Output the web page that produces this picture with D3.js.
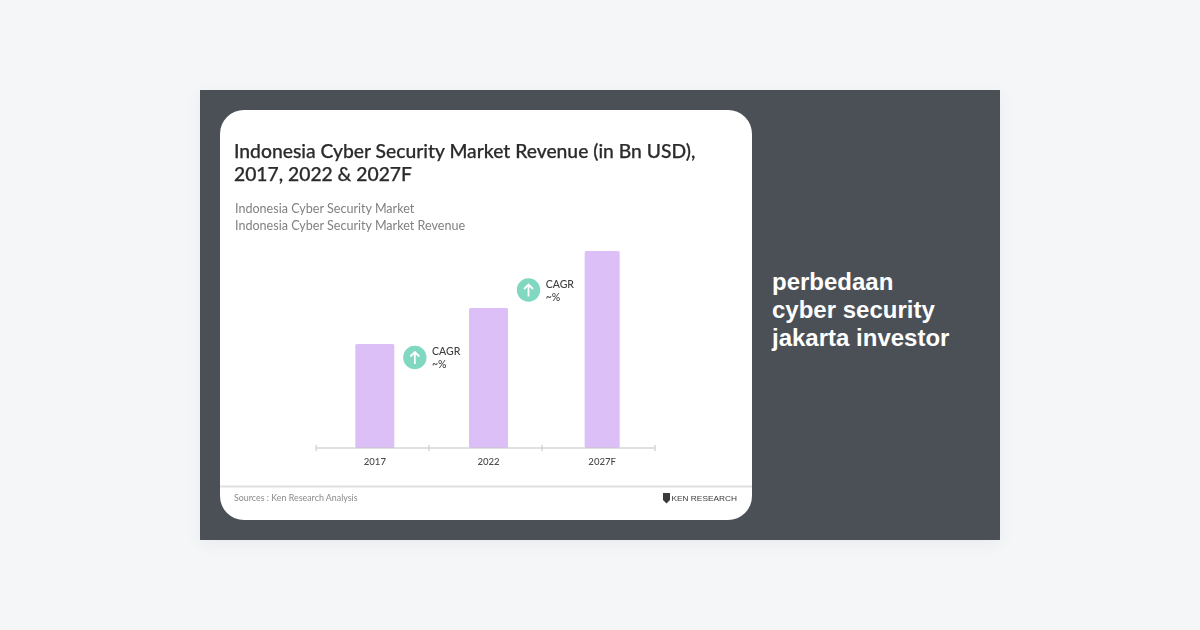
<!DOCTYPE html>
<html>
<head>
<meta charset="utf-8">
<script src="https://cdn.jsdelivr.net/npm/d3@7"></script>
<style>
  html, body { margin: 0; padding: 0; background: #f5f6f8; }
  #page { position: relative; width: 1200px; height: 630px; overflow: hidden; }
  #panel { position: absolute; left: 200px; top: 90px; width: 800px; height: 450px;
    background: #4b5057; box-shadow: 0 4px 16px rgba(0,0,0,0.05); }
  #caption { position: absolute; left: 772px; top: 267.5px; width: 220px;
    font: bold 24px/28.3px "Liberation Sans", Arial, sans-serif; color: #fff; }
  svg { position: absolute; left: 0; top: 0; }
</style>
</head>
<body>
<div id="page">
  <div id="panel"></div>
  <svg id="chart" width="1200" height="630"></svg>
  <div id="caption">perbedaan<br>cyber security<br>jakarta investor</div>
</div>
<script>
// Values, the source prints no numbers
const categories = ['2017', '2022', '2027F'];
const revenue = [1.04, 1.40, 1.97];
const titleLines = ['Indonesia Cyber Security Market Revenue (in Bn USD),', '2017, 2022 & 2027F'];
const subtitleLines = ['Indonesia Cyber Security Market', 'Indonesia Cyber Security Market Revenue'];
const cagrFrom = ['2017', '2022'];
const cagrLabels = ['CAGR', '~%'];

const font = 'Lato, sans-serif';
const barWidths = { '2017': 39, '2022': 39, '2027F': 35 };

const svg = d3.select('#chart');
const card = svg.append('g').style('filter', 'blur(0.45px)');

card.append('rect')
  .attr('x', 220).attr('y', 110)
  .attr('width', 532).attr('height', 410)
  .attr('rx', 24)
  .attr('fill', '#fff');

// Title
titleLines.forEach((line, i) => {
  card.append('text')
    .attr('x', 234)
    .attr('y', 157.5 + i * 23)
    .attr('fill', '#2b2b2d')
    .attr('font-size', '19.3px')
    .attr('font-weight', '500')
    .attr('font-family', font)
    .attr('stroke', '#2b2b2d')
    .attr('stroke-width', 0.25)
    .text(line);
});

subtitleLines.forEach((line, i) => {
  card.append('text')
    .attr('x', 235)
    .attr('y', 213 + i * 16.5)
    .attr('fill', '#808184')
    .attr('font-size', '12.57px')
    .attr('font-family', font)
    .text(line);
});

// Scales
const x = d3.scaleBand()
  .domain(categories)
  .range([318, 659])
  .padding(0);

const y = d3.scaleLinear()
  .domain([0, 2])
  .range([448, 248]);

const cx = c => x(c) + x.bandwidth() / 2;

// Bars
card.selectAll('rect.bar')
  .data(categories)
  .join('rect')
  .attr('class', 'bar')
  .attr('x', c => cx(c) - barWidths[c] / 2)
  .attr('y', (c, i) => y(revenue[i]))
  .attr('width', c => barWidths[c])
  .attr('height', (c, i) => y(0) - y(revenue[i]))
  .attr('rx', 1.5)
  .attr('fill', '#dcbff6');

// Axis line with separators between the categories
const axisEdges = d3.scaleLinear().domain([0, 3]).range([316, 655]);
card.append('line')
  .attr('x1', axisEdges(0)).attr('x2', axisEdges(3))
  .attr('y1', y(0)).attr('y2', y(0))
  .attr('stroke', '#c4c4c8')
  .attr('stroke-width', 1.2);

card.selectAll('line.sep')
  .data(d3.range(4))
  .join('line')
  .attr('class', 'sep')
  .attr('x1', d => axisEdges(d)).attr('x2', d => axisEdges(d))
  .attr('y1', y(0) - 3).attr('y2', y(0) + 3)
  .attr('stroke', '#c4c4c8')
  .attr('stroke-width', 1);

// Category labels
const axis = d3.axisBottom(x).tickSize(0).tickPadding(10);
const axisG = card.append('g')
  .attr('transform', `translate(0,${y(0)})`)
  .call(axis);
axisG.select('.domain').remove();
axisG.selectAll('text')
  .attr('fill', '#4a4a4d')
  .attr('font-size', '9.6px')
  .attr('font-weight', '500')
  .attr('font-family', font);

// CAGR badges, placed next to the bar they start from
cagrFrom.forEach(c => {
  const i = categories.indexOf(c);
  const badgeX = cx(c) + 40;
  const badgeY = y(revenue[i]) + (i === 0 ? 13.5 : -18);
  const g = card.append('g').attr('transform', `translate(${badgeX},${badgeY})`);

  g.append('circle').attr('r', 11.7).attr('fill', '#7fd8bf');
  g.append('path')
    .attr('d', 'M0,6.5V-5.5M-4.5,-1L0,-5.5L4.5,-1')
    .attr('fill', 'none')
    .attr('stroke', '#fff')
    .attr('stroke-width', 1.8);

  cagrLabels.forEach((line, k) => {
    g.append('text')
      .attr('x', 17.2)
      .attr('y', -2.5 + k * 13)
      .attr('fill', '#3f3f42')
      .attr('font-size', '10.5px')
      .attr('font-weight', '500')
      .attr('font-family', font)
      .text(line);
  });
});

// Footer
card.append('line')
  .attr('x1', 220).attr('x2', 752)
  .attr('y1', 486.5).attr('y2', 486.5)
  .attr('stroke', '#dfdfe1')
  .attr('stroke-width', 1.8);

card.append('text')
  .attr('x', 234).attr('y', 500.5)
  .attr('fill', '#8a8b8d')
  .attr('font-size', '8.9px')
  .attr('font-family', font)
  .text('Sources : Ken Research Analysis');

card.append('path')
  .attr('d', 'M663,493H670V500L666.5,503.5L663,500Z')
  .attr('fill', '#3a3a3d');

card.append('text')
  .attr('x', 671.5).attr('y', 500.6)
  .attr('fill', '#3a3a3d')
  .attr('font-size', '8px')
  .attr('font-family', '"Liberation Sans", sans-serif')
  .attr('textLength', 65.5)
  .attr('lengthAdjust', 'spacingAndGlyphs')
  .text('KEN RESEARCH');
</script>
</body>
</html>
